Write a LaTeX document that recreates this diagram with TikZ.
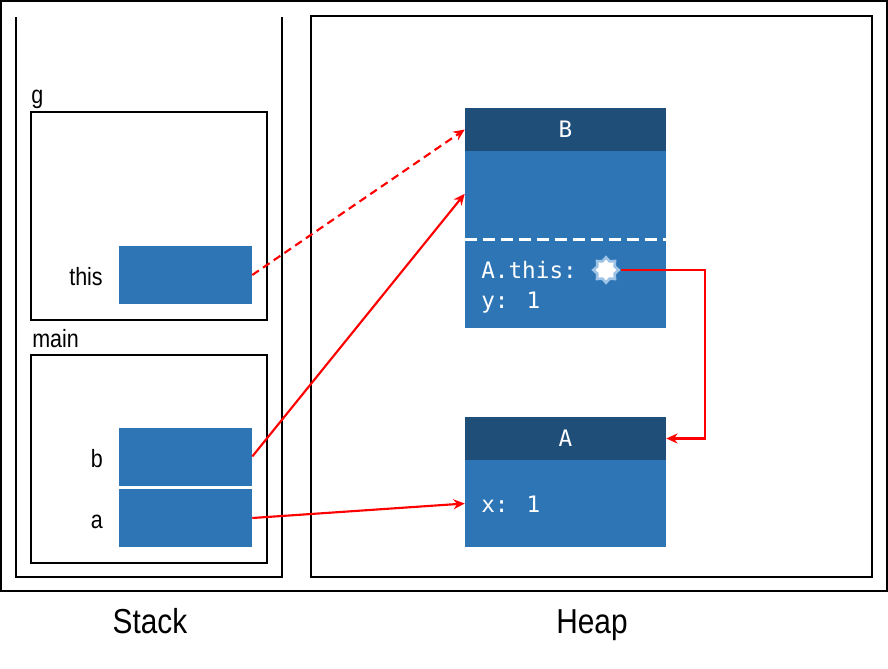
\documentclass[tikz,border=0pt]{standalone}
\usepackage{fontspec}
\setmainfont{Liberation Sans}[FakeStretch=0.86]
\newfontfamily\codefont{DejaVu Sans Mono}
\usepackage{tikz}
\usetikzlibrary{arrows.meta,shapes.geometric}
\definecolor{objBlue}{RGB}{46,117,182}
\definecolor{objBlueDark}{RGB}{31,78,121}
\definecolor{objGlow}{RGB}{157,195,230}

\begin{document}
\begin{tikzpicture}[x=0.75pt,y=-0.75pt,
  frame/.style={line width=1.5pt},
  cell/.style={fill=objBlue, minimum width=99.75pt, minimum height=43.5pt, inner sep=0pt},
  objhead/.style={fill=objBlueDark, text=white, font=\codefont\fontsize{17}{20}\selectfont, minimum width=150.75pt, minimum height=32.25pt, inner sep=0pt},
  objbody/.style={fill=objBlue, minimum width=150.75pt, inner sep=0pt},
  code/.style={text=white, font=\codefont\fontsize{17}{20}\selectfont, anchor=base west, inner sep=0pt},
  lbl/.style={font=\fontsize{18.75}{22}\selectfont, inner sep=0pt},
  ref/.style={red, line width=1.6pt, -{Stealth[length=8.5pt,width=7.5pt]}}]
\useasboundingbox (0,0) rectangle (888,668);
\draw[frame] (1,1) rectangle (887,591);
\draw[frame] (16,17) -- (16,577) -- (282,577) -- (282,17);
\draw[frame] (311,16) rectangle (872,577);
\draw[frame] (31,112) rectangle (267,320);
\draw[frame] (31,355) rectangle (267,563);
\node[lbl, anchor=base west] (gname) at (31,103) {g};
\node[lbl, anchor=base west] (mainname) at (32,347) {main};
\node[lbl, anchor=base east] (thisname) at (103,285) {this};
\node[lbl, anchor=base east] (bname) at (103,467) {b};
\node[lbl, anchor=base east] (aname) at (103,528) {a};
\node[cell] (thisvar) at (185.5,275) {};
\node[cell] (bvar) at (185.5,456.5) {};
\node[cell] (avar) at (185.5,518) {};
\node[objhead] (Bhead) at (565.5,129.5) {B};
\node[objbody, minimum height=132.75pt] (Bbody) at (565.5,239.5) {};
\draw[white, line width=2.25pt, dash pattern=on 9pt off 4.5pt] (Bbody.west) -- (Bbody.east);
\node[code] (Bthis) at (481,278) {A.this:};
\node[code] (By) at (481,308) {y: 1};
\node[star, star points=8, star point ratio=1.35, fill=white, draw=objGlow, line width=2pt, minimum size=19pt, inner sep=0pt] (thisref) at (606,270) {};
\node[objhead] (Ahead) at (565.5,438.5) {A};
\node[objbody, minimum height=65.25pt] (Abody) at (565.5,503.5) {};
\node[code] (Ax) at (481,512) {x: 1};
\coordinate (turn) at (705,270);
\draw[ref, dash pattern=on 6pt off 3.75pt] (thisvar.east) -- (Bhead.west);
\draw[ref] (bvar.east) -- ([yshift=-32.25pt]Bbody.north west);
\draw[ref] (avar.east) -- (Abody.west);
\draw[ref] (thisref.east) -- (turn) |- (Ahead.east);
\node[font=\fontsize{26}{30}\selectfont, anchor=base] (stacklbl) at (150,633) {Stack};
\node[font=\fontsize{26}{30}\selectfont, anchor=base] (heaplbl) at (592,633) {Heap};
\end{tikzpicture}
\end{document}
